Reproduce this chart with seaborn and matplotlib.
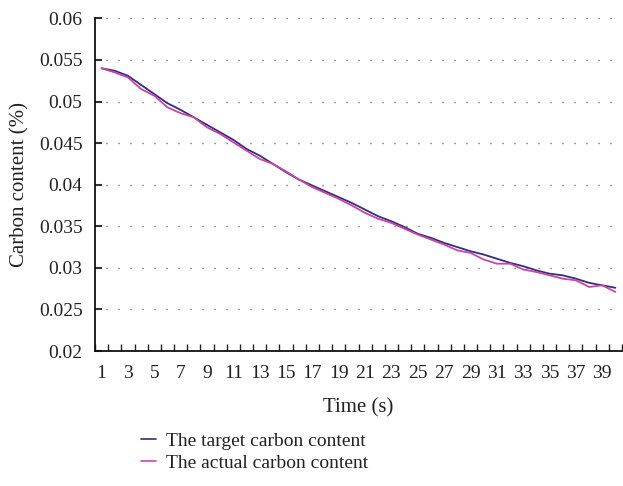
import numpy as np
import pandas as pd
import matplotlib
matplotlib.use("Agg")
import matplotlib.pyplot as plt
from matplotlib.lines import Line2D
import seaborn as sns

# ---- data ----
time_s = list(range(1, 41))
target = [0.0540, 0.0537, 0.0531, 0.0520, 0.0509, 0.0498, 0.0490, 0.0481, 0.0472, 0.0463,
          0.0454, 0.0443, 0.0435, 0.0425, 0.0415, 0.0406, 0.0399, 0.0392, 0.0385, 0.0378,
          0.0370, 0.0362, 0.0356, 0.0349, 0.0341, 0.0336, 0.0330, 0.0325, 0.0320, 0.0316,
          0.0311, 0.0306, 0.0302, 0.0297, 0.0293, 0.0291, 0.0287, 0.0282, 0.0279, 0.0276]
actual = [0.0540, 0.0535, 0.0529, 0.0515, 0.0507, 0.0493, 0.0486, 0.0481, 0.0469, 0.0461,
          0.0451, 0.0441, 0.0431, 0.0425, 0.0416, 0.0406, 0.0397, 0.0390, 0.0383, 0.0375,
          0.0366, 0.0359, 0.0354, 0.0347, 0.0340, 0.0334, 0.0328, 0.0321, 0.0318, 0.0310,
          0.0305, 0.0305, 0.0298, 0.0295, 0.0291, 0.0287, 0.0285, 0.0277, 0.0279, 0.0271]
series_names = ["The target carbon content", "The actual carbon content"]
x_tick_values = list(range(1, 40, 2))
x_tick_labels = [str(v) for v in x_tick_values]
y_tick_values = [0.02, 0.025, 0.03, 0.035, 0.04, 0.045, 0.05, 0.055, 0.06]
y_tick_labels = ["0.02", "0.025", "0.03", "0.035", "0.04", "0.045", "0.05", "0.055", "0.06"]

colors = ["#2E2F7E", "#CC44A6"]

df = pd.DataFrame({
    "Time": time_s * 2,
    "Carbon": target + actual,
    "Series": [series_names[0]] * len(time_s) + [series_names[1]] * len(time_s),
})

sns.set_style("white")
plt.rcParams["font.family"] = ["Liberation Serif", "DejaVu Serif"]
text_color = "#222222"

fig = plt.figure(figsize=(6.23, 4.86), dpi=100)
ax = fig.add_axes([95 / 623, 135 / 486, 527 / 623, 332.6 / 486])

sns.lineplot(data=df, x="Time", y="Carbon", hue="Series", palette=colors,
             ax=ax, linewidth=1.3, legend=False, sort=False)

ax.set_xlim(0.5, 40.5)
ax.set_ylim(0.02, 0.06)

ax.set_yticks(y_tick_values)
ax.set_yticklabels(y_tick_labels, fontsize=14, color=text_color)
ax.set_xticks(x_tick_values)
ax.set_xticklabels(x_tick_labels, fontsize=14, color=text_color)
ax.set_xticks(np.arange(0.5, 41, 1), minor=True)
ax.tick_params(axis="x", which="both", bottom=True)
ax.tick_params(axis="x", which="major", length=0, pad=10)
ax.tick_params(axis="x", which="minor", direction="in", length=5, width=1, color="#222222")
ax.tick_params(axis="y", which="major", left=True, direction="in", length=5, width=1.5,
               color="#333333", pad=9)

ax.yaxis.grid(True, linestyle=(0.72, (0.8, 7.84)), color="#555555", linewidth=1.0)
ax.xaxis.grid(False)

for s in ["top", "right"]:
    ax.spines[s].set_visible(False)
for s in ["left", "bottom"]:
    ax.spines[s].set_color("#111111")
    ax.spines[s].set_linewidth(1.3)

ax.set_xlabel("Time (s)", fontsize=15, color=text_color, labelpad=12)
ax.set_ylabel("Carbon content (%)", fontsize=15, color=text_color, labelpad=7)

handles = [Line2D([0], [0], color=c, linewidth=1.2) for c in colors]
fig.legend(handles, series_names, loc="upper left", bbox_to_anchor=(141 / 623, 1 - 432 / 486),
           frameon=False, fontsize=14, handlelength=0.75, handletextpad=0.55,
           labelspacing=0.25, borderpad=0, borderaxespad=0, labelcolor=text_color)

fig.savefig("out.png", dpi=100)
